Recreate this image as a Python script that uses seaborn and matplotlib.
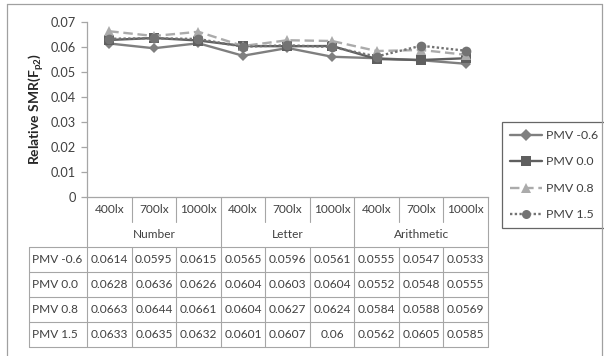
import numpy as np
import pandas as pd
import seaborn as sns
import matplotlib
matplotlib.use("Agg")
import matplotlib.pyplot as plt
from matplotlib import transforms
from matplotlib.lines import Line2D

# ---- data -------------------------------------------------------------
lux_levels = ["400lx", "700lx", "1000lx", "400lx", "700lx", "1000lx", "400lx", "700lx", "1000lx"]
tasks = ["Number", "Letter", "Arithmetic"]
series_names = ["PMV -0.6", "PMV 0.0", "PMV 0.8", "PMV 1.5"]
smr_pmv_m06 = [0.0614, 0.0595, 0.0615, 0.0565, 0.0596, 0.0561, 0.0555, 0.0547, 0.0533]
smr_pmv_00 = [0.0628, 0.0636, 0.0626, 0.0604, 0.0603, 0.0604, 0.0552, 0.0548, 0.0555]
smr_pmv_08 = [0.0663, 0.0644, 0.0661, 0.0604, 0.0627, 0.0624, 0.0584, 0.0588, 0.0569]
smr_pmv_15 = [0.0633, 0.0635, 0.0632, 0.0601, 0.0607, 0.0600, 0.0562, 0.0605, 0.0585]
y_ticks = [0, 0.01, 0.02, 0.03, 0.04, 0.05, 0.06, 0.07]

series_values = [smr_pmv_m06, smr_pmv_00, smr_pmv_08, smr_pmv_15]
rows = []
for name, vals in zip(series_names, series_values):
    for pos, v in enumerate(vals):
        rows.append({"pos": pos, "smr": v, "series": name})
df = pd.DataFrame(rows)

# ---- style ------------------------------------------------------------
sns.set_theme(style="white")
plt.rcParams["font.family"] = ["Lato", "DejaVu Sans"]
plt.rcParams["mathtext.fontset"] = "custom"
plt.rcParams["mathtext.bf"] = "Lato:bold"
plt.rcParams["mathtext.rm"] = "Lato"

W, H = 604, 356
TXT = "#404040"
GRID = "#a6a6a6"
FS = 8.6

fig = plt.figure(figsize=(W / 100, H / 100), dpi=100)
fig.patch.set_facecolor("white")

def fx(x):
    return x / W

def fy(y):
    return 1 - y / H

ax_left, ax_right, ax_top, ax_bottom = 87, 488, 22, 197
ax = fig.add_axes([fx(ax_left), fy(ax_bottom), fx(ax_right - ax_left), (ax_bottom - ax_top) / H])

palette = {"PMV -0.6": "#7f7f7f", "PMV 0.0": "#5f5f5f", "PMV 0.8": "#ababab", "PMV 1.5": "#737373"}
markers = {"PMV -0.6": "D", "PMV 0.0": "s", "PMV 0.8": "^", "PMV 1.5": "o"}
dashes = {"PMV -0.6": "", "PMV 0.0": "", "PMV 0.8": (4, 2), "PMV 1.5": (1, 1)}

sns.lineplot(data=df, x="pos", y="smr", hue="series", style="series",
             hue_order=series_names, style_order=series_names,
             palette=palette, markers=markers, dashes=dashes,
             linewidth=1.7, markersize=6.5, markeredgewidth=0,
             errorbar=None, ax=ax)
msize = {"PMV -0.6": 5, "PMV 0.0": 6.5, "PMV 0.8": 7, "PMV 1.5": 7}
for line, name in zip(ax.lines, series_names):
    line.set_markersize(msize[name])

ax.set_xlim(-0.5, 8.5)
ax.set_ylim(0, 0.07)
ax.set_yticks(y_ticks)
ax.set_yticklabels([f"{t:g}" for t in y_ticks], fontsize=FS + 0.6, color=TXT)
ax.set_xticks([])
ax.set_xlabel("")
ax.set_ylabel("")
for side in ["top", "right"]:
    ax.spines[side].set_visible(False)
for side in ["left", "bottom"]:
    ax.spines[side].set_color(GRID)
    ax.spines[side].set_linewidth(0.9)
ax.tick_params(axis="y", direction="out", length=4, width=0.9, color=GRID, pad=4, left=True)
ax.set_facecolor("white")

fig.text(fx(36), fy(109), r"Relative SMR(F$_{\mathbf{p2}}$)", rotation=90,
         ha="center", va="center", fontsize=10, fontweight="bold", color="#262626")

# legend
sns.move_legend(ax, loc="upper left", bbox_to_anchor=(fx(502), fy(122)),
                bbox_transform=fig.transFigure, title=None, frameon=True,
                fancybox=False, edgecolor="#404040", fontsize=8.9,
                handlelength=2.6, labelspacing=1.25, borderpad=0.65,
                handletextpad=0.3, borderaxespad=0)
leg = ax.get_legend()
leg.get_frame().set_linewidth(0.9)
for t in leg.get_texts():
    t.set_color(TXT)

# ---- data table under the axis ---------------------------------------
bt = transforms.blended_transform_factory(ax.transData, fig.transFigure)
lw = 0.8
label_left = 29
lux_row = (197, 222)
task_row = (222, 247)
row_top = 247
row_h = 25
n = len(lux_levels)
bounds = [i - 0.5 for i in range(n + 1)]

def vline(x, y0, y1, trans=bt):
    fig.add_artist(Line2D([x, x], [fy(y0), fy(y1)], transform=trans, color=GRID, lw=lw))

# header dividers
for i, b in enumerate(bounds):
    if i % 3 == 0:
        vline(b, lux_row[0], row_top)
    else:
        vline(b, lux_row[0], lux_row[1])
for i, lab in enumerate(lux_levels):
    fig.text(i, fy((lux_row[0] + lux_row[1]) / 2), lab, transform=bt, ha="center",
             va="center", fontsize=FS, color=TXT)
for g, task in enumerate(tasks):
    fig.text(3 * g + 1, fy((task_row[0] + task_row[1]) / 2), task, transform=bt,
             ha="center", va="center", fontsize=FS, color=TXT)

# body grid
row_bottom = row_top + row_h * len(series_names)
x_right = fig.transFigure.inverted().transform(bt.transform((bounds[-1], 0)))[0]
for r in range(len(series_names) + 1):
    y = fy(row_top + r * row_h)
    fig.add_artist(Line2D([fx(label_left), x_right], [y, y], transform=fig.transFigure,
                          color=GRID, lw=lw))
vline(fx(label_left), row_top, row_bottom, trans=fig.transFigure)
for b in bounds:
    vline(b, row_top, row_bottom)

for r, (name, vals) in enumerate(zip(series_names, series_values)):
    yc = fy(row_top + r * row_h + row_h / 2)
    fig.text(fx(label_left + 3), yc, name, ha="left", va="center", fontsize=FS, color=TXT)
    for i, v in enumerate(vals):
        fig.text(i, yc, f"{v:g}", transform=bt, ha="center", va="center",
                 fontsize=FS, color=TXT)

# chart border (left, top, right)
frame_kw = dict(transform=fig.transFigure, color="#a0a0a0", lw=0.9)
fig.add_artist(Line2D([fx(7), fx(7)], [fy(4), 0], **frame_kw))
fig.add_artist(Line2D([fx(7), fx(602)], [fy(4), fy(4)], **frame_kw))
fig.add_artist(Line2D([fx(602), fx(602)], [fy(4), 0], **frame_kw))

fig.savefig("out.png", dpi=100, facecolor="white")
